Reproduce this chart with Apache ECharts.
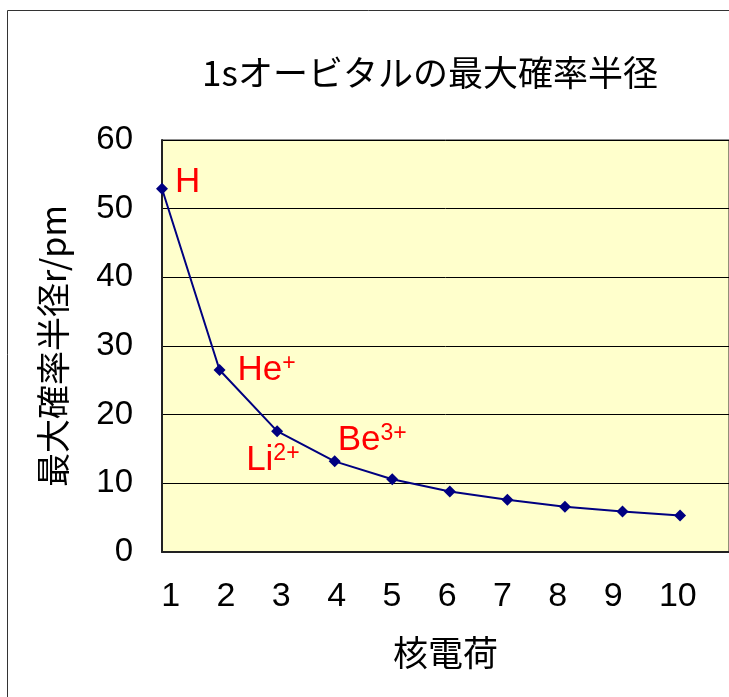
<!DOCTYPE html>
<html>
<head>
<meta charset="utf-8">
<script src="https://cdn.jsdelivr.net/npm/echarts@6/dist/echarts.min.js"></script>
<style>
  html, body { margin: 0; padding: 0; background: #ffffff; }
  #chart { width: 729px; height: 697px; }
</style>
</head>
<body>
<div id="chart"></div>
<script>
// Nuclear charge Z and the most probable radius of the 1s orbital (pm)
const nuclearCharge = [1, 2, 3, 4, 5, 6, 7, 8, 9, 10];
const maxRadius = [52.9, 26.5, 17.6, 13.2, 10.6, 8.8, 7.6, 6.6, 5.9, 5.3];
// Element symbol and ionic charge for the annotated points
const ionSymbols = ['H', 'He', 'Li', 'Be'];
const ionCharges = ['', '+', '2+', '3+'];
// Tick labels along the bottom
const xTickLabels = ['1', '2', '3', '4', '5', '6', '7', '8', '9', '10'];
const yTicks = [0, 10, 20, 30, 40, 50, 60];

const CJK = '"Noto Sans CJK JP", "Noto Sans", sans-serif';
const LATIN = '"Liberation Sans", Arial, sans-serif';

// label placement (px from the marker centre) for each annotated ion
const labelOffsets = [[13, -6], [18, 0], [-31, 29], [3, -21]];

const seriesData = nuclearCharge.map((z, i) => {
  const item = { value: [z, maxRadius[i]] };
  if (i < ionSymbols.length) {
    const sup = ionCharges[i] ? '{s|' + ionCharges[i] + '}' : '';
    item.label = {
      show: true,
      position: 'inside',
      align: 'left',
      verticalAlign: 'middle',
      offset: labelOffsets[i],
      formatter: '{m|' + ionSymbols[i] + '}' + sup
    };
  }
  return item;
});

const chart = echarts.init(document.getElementById('chart'), null, { renderer: 'canvas' });

chart.setOption({
  animation: false,
  backgroundColor: '#ffffff',
  title: {
    text: '1sオービタルの最大確率半径',
    left: 425,
    top: 50,
    textAlign: 'center',
    textStyle: { fontFamily: CJK, fontSize: 35, fontWeight: 'normal', color: '#000' }
  },
  graphic: [{
    type: 'rect',
    shape: { x: 7.5, y: 10.5, width: 800, height: 800 },
    style: { fill: 'none', stroke: '#333', lineWidth: 1 },
    silent: true,
    z: -1
  }],
  grid: [
    {
      left: 162, top: 140, width: 571, height: 412,
      show: true, backgroundColor: '#FFFFCC', borderColor: '#222', borderWidth: 1
    },
    {
      left: 133.6, top: 140, width: 553, height: 412, show: false
    }
  ],
  xAxis: [
    {
      gridIndex: 0,
      type: 'value',
      min: 1,
      max: 10.85,
      name: '核電荷',
      nameLocation: 'middle',
      nameGap: 83,
      nameTextStyle: { fontFamily: CJK, fontSize: 35, color: '#000' },
      axisLine: { show: true, onZero: false, lineStyle: { color: '#222', width: 2 } },
      axisTick: { show: false },
      axisLabel: { show: false },
      splitLine: { show: false }
    },
    {
      gridIndex: 1,
      type: 'category',
      data: xTickLabels,
      boundaryGap: true,
      axisLine: { show: false },
      axisTick: { show: false },
      splitLine: { show: false },
      axisLabel: {
        show: true,
        interval: 0,
        align: 'left',
        margin: 28,
        fontFamily: LATIN,
        fontSize: 34,
        color: '#000'
      }
    }
  ],
  yAxis: [
    {
      gridIndex: 0,
      type: 'value',
      min: yTicks[0],
      max: yTicks[yTicks.length - 1],
      interval: yTicks[1] - yTicks[0],
      name: '最大確率半径r/pm',
      nameLocation: 'middle',
      nameGap: 92,
      nameRotate: 90,
      nameTextStyle: { fontFamily: CJK, fontSize: 34, color: '#000' },
      axisLine: { show: true, lineStyle: { color: '#222', width: 2 } },
      axisTick: { show: false },
      axisLabel: { margin: 29, fontFamily: LATIN, fontSize: 33, color: '#000' },
      splitLine: { show: true, lineStyle: { color: '#000', width: 1 } }
    },
    {
      gridIndex: 1,
      type: 'value',
      min: 0, max: 60,
      show: false
    }
  ],
  series: [{
    type: 'line',
    xAxisIndex: 0,
    yAxisIndex: 0,
    data: seriesData,
    symbol: 'diamond',
    symbolSize: 12,
    showAllSymbol: true,
    lineStyle: { color: '#000080', width: 2 },
    itemStyle: { color: '#000080' },
    label: {
      show: false,
      color: '#FF0000',
      rich: {
        m: { fontFamily: LATIN, fontSize: 35, color: '#FF0000', lineHeight: 36, verticalAlign: 'middle' },
        s: { fontFamily: LATIN, fontSize: 23, color: '#FF0000', lineHeight: 26, verticalAlign: 'top' }
      }
    },
    emphasis: { disabled: true }
  }]
});
</script>
</body>
</html>
